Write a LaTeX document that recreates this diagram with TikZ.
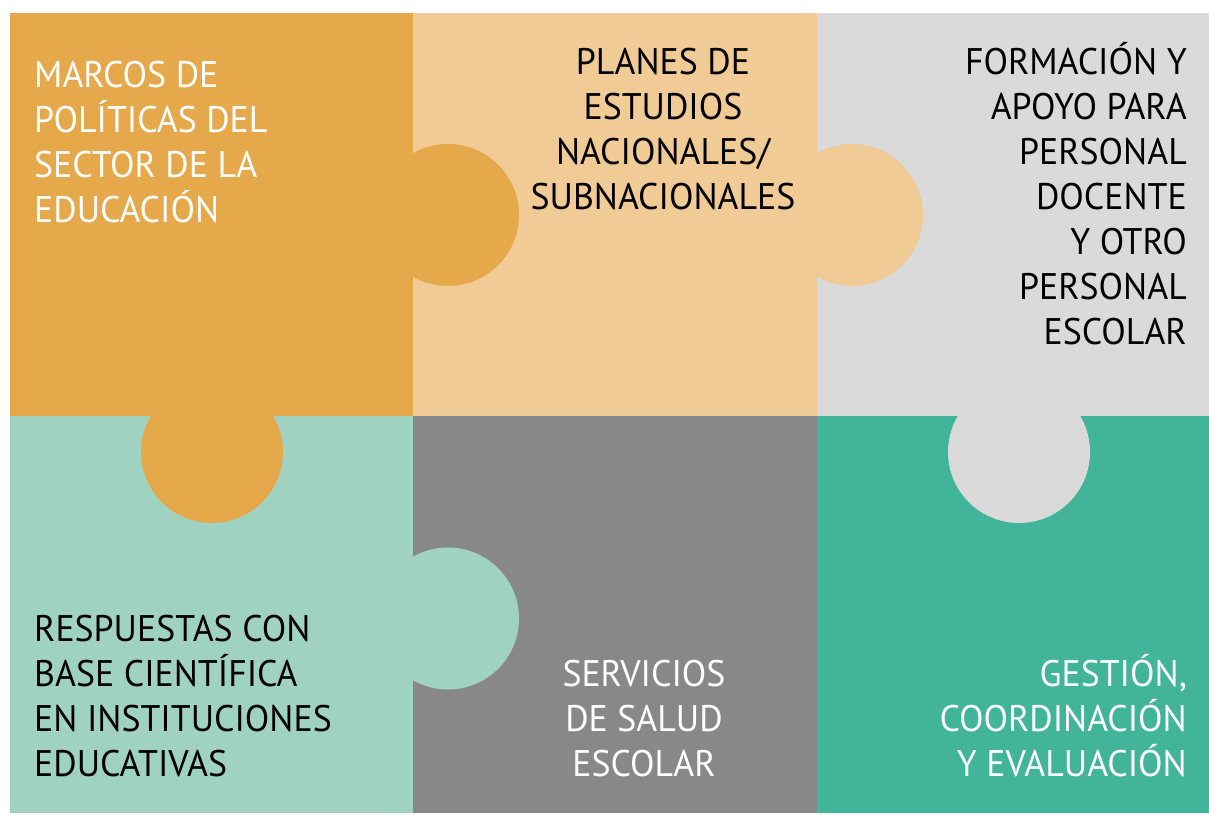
\documentclass[tikz,border=0pt]{standalone}
\usepackage{fontspec}
\setmainfont{PT Sans}[FakeStretch=0.968]
\definecolor{cOrange}{HTML}{E5A84B}
\definecolor{cPeach}{HTML}{F1CB95}
\definecolor{cLGray}{HTML}{DADADA}
\definecolor{cTeal}{HTML}{A0D2C2}
\definecolor{cDGray}{HTML}{888888}
\definecolor{cGreen}{HTML}{41B499}
\begin{document}
\begin{tikzpicture}[x=1pt,y=-1pt,
  lbl/.style={inner sep=0pt,font=\fontsize{37}{45}\selectfont},
  lw/.style={lbl,text=white},
  lk/.style={lbl,text=black}]
\useasboundingbox[fill=white] (0,0) rectangle (1209,814);
% panels
\fill[cOrange] (10,13) rectangle (413.5,416.5);
\fill[cPeach] (413.3,13) rectangle (817.5,416.5);
\fill[cLGray] (817.3,13) rectangle (1209,416.5);
\fill[cTeal] (10,416) rectangle (413.5,813);
\fill[cDGray] (413.3,416) rectangle (817.5,813);
\fill[cGreen] (817.3,416) rectangle (1209,813);
% tabs
\fill[cOrange] (448,215) circle[radius=71];
\fill[cPeach] (852,215) circle[radius=71];
\fill[cOrange] (212,452) circle[radius=71];
\fill[cLGray] (1019,452) circle[radius=71];
\fill[cTeal] (448,618.5) circle[radius=71];
% panel 1
\node[lw,anchor=base west] (a1) at (34,87) {MARCOS DE};
\node[lw,anchor=base west] (a2) at (34,132) {POLÍTICAS DEL};
\node[lw,anchor=base west] (a3) at (34,177) {SECTOR DE LA};
\node[lw,anchor=base west] (a4) at (34,222) {EDUCACIÓN};
% panel 2
\node[lk,anchor=base] (b1) at (663,74) {PLANES DE};
\node[lk,anchor=base] (b2) at (663,119) {ESTUDIOS};
\node[lk,anchor=base] (b3) at (663,164) {NACIONALES/};
\node[lk,anchor=base] (b4) at (663,209) {SUBNACIONALES};
% panel 3
\node[lk,anchor=base east] (c1) at (1187,74) {FORMACIÓN Y};
\node[lk,anchor=base east] (c2) at (1187,119) {APOYO PARA};
\node[lk,anchor=base east] (c3) at (1187,164) {PERSONAL};
\node[lk,anchor=base east] (c4) at (1187,209) {DOCENTE};
\node[lk,anchor=base east] (c5) at (1187,254) {Y OTRO};
\node[lk,anchor=base east] (c6) at (1187,299) {PERSONAL};
\node[lk,anchor=base east] (c7) at (1187,344) {ESCOLAR};
% panel 4
\node[lk,anchor=base west] (d1) at (34,641) {RESPUESTAS CON};
\node[lk,anchor=base west] (d2) at (34,686) {BASE CIENTÍFICA};
\node[lk,anchor=base west] (d3) at (34,731) {EN INSTITUCIONES};
\node[lk,anchor=base west] (d4) at (34,776) {EDUCATIVAS};
% panel 5
\node[lw,anchor=base] (e1) at (644,686) {SERVICIOS};
\node[lw,anchor=base] (e2) at (644,731) {DE SALUD};
\node[lw,anchor=base] (e3) at (644,776) {ESCOLAR};
% panel 6
\node[lw,anchor=base east] (f1) at (1187,686) {GESTIÓN,};
\node[lw,anchor=base east] (f2) at (1187,731) {COORDINACIÓN};
\node[lw,anchor=base east] (f3) at (1187,776) {Y EVALUACIÓN};
\end{tikzpicture}
\end{document}
